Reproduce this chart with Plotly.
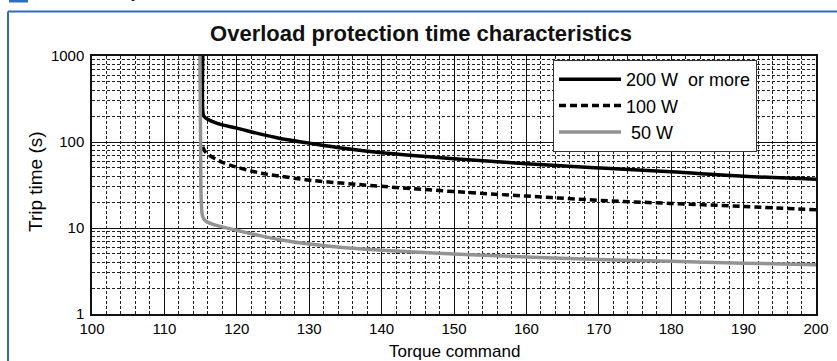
import plotly.graph_objects as go

# torque command (%) and trip time (s)
torque_200w = [115.3, 115.3, 115.4, 115.7, 116.5, 118, 120, 123, 126, 130, 135, 140,
               150, 160, 170, 180, 190, 200]
trip_200w = [1000, 230, 205, 190, 175, 158, 145, 125, 110, 97, 84, 75,
             64, 56, 50, 45, 40, 37]

torque_100w = [115.3, 115.5, 116, 117, 118, 120, 123, 126, 130, 135, 140,
               150, 160, 170, 180, 190, 200]
trip_100w = [88, 80, 72, 64, 58, 51, 44, 40, 36, 33, 30.5,
             26.5, 23.5, 21, 19.3, 17.8, 16.3]

torque_50w = [114.9, 115.0, 115.1, 115.3, 115.7, 116.5, 118, 120, 123, 126, 130, 135,
              140, 150, 160, 170, 180, 190, 200]
trip_50w = [1000, 100, 20, 13.5, 12, 11.2, 10.3, 9.4, 8.2, 7.3, 6.5, 5.9,
            5.5, 5.0, 4.6, 4.3, 4.1, 3.9, 3.75]

x_ticks = list(range(100, 201, 10))
y_ticks = [1, 10, 100, 1000]

FONT = "Liberation Sans, Arial, sans-serif"
BLUE = "#2f6fba"

# plot area in pixels
L, R, T, B = 92, 816, 56, 314
PW, PH = R - L, B - T


def px(x):
    return (x - L) / PW


def py(y):
    return (B - y) / PH


fig = go.Figure()
fig.add_trace(go.Scatter(x=torque_200w, y=trip_200w, name="200 W  or more",
                         mode="lines", line=dict(color="black", width=3.5, shape="spline")))
fig.add_trace(go.Scatter(x=torque_100w, y=trip_100w, name="100 W",
                         mode="lines", line=dict(color="black", width=3.5, dash="7px,4px",
                                                 shape="spline")))
fig.add_trace(go.Scatter(x=torque_50w, y=trip_50w, name=" 50 W",
                         mode="lines", line=dict(color="#939393", width=3.5, shape="spline")))

fig.update_layout(
    width=837, height=361,
    margin=dict(l=L, r=837 - R, t=T, b=361 - B, autoexpand=False),
    paper_bgcolor="white", plot_bgcolor="white",
    font=dict(family=FONT, color="black", size=15),
    title=dict(text="<b>Overload protection time characteristics</b>",
               x=421 / 837, xanchor="center", y=1 - 33 / 361, yanchor="middle",
               font=dict(size=22, color="#111")),
    legend=dict(x=px(553), y=py(60), xanchor="left", yanchor="top",
                bgcolor="white", bordercolor="#333", borderwidth=1,
                font=dict(size=18, color="black"), itemwidth=62,
                tracegroupgap=0),
    xaxis=dict(
        range=[100, 200], tickvals=x_ticks, ticks="", automargin=False,
        ticklabelstandoff=0,
        showgrid=True, gridcolor="#111", gridwidth=1,
        showline=True, linecolor="#111", linewidth=1.5, mirror=True,
        minor=dict(dtick=2, showgrid=True, gridcolor="#222", gridwidth=1, griddash="3px,2px"),
        zeroline=False,
    ),
    yaxis=dict(
        type="log", range=[0, 3], tickvals=y_ticks, ticktext=[str(v) for v in y_ticks],
        ticks="", automargin=False, ticklabelstandoff=3,
        showgrid=True, gridcolor="#111", gridwidth=1,
        showline=True, linecolor="#111", linewidth=1.5, mirror=True,
        minor=dict(dtick="D1", showgrid=True, gridcolor="#222", gridwidth=1, griddash="3px,2px"),
        zeroline=False,
    ),
)

# axis titles
fig.add_annotation(xref="paper", yref="paper", x=px(454), y=py(351), showarrow=False,
                   xanchor="center", yanchor="middle", text="Torque command",
                   font=dict(size=17))
fig.add_annotation(xref="paper", yref="paper", x=px(35), y=py(182), showarrow=False,
                   xanchor="center", yanchor="middle", text="Trip time (s)", textangle=-90,
                   font=dict(size=19))

# blue frame around the panel
fig.add_shape(type="line", xref="paper", yref="paper", x0=px(8), x1=px(850), y0=py(11.5),
              y1=py(11.5), line=dict(color=BLUE, width=2))
fig.add_shape(type="line", xref="paper", yref="paper", x0=px(8), x1=px(8), y0=py(11.5),
              y1=py(380), line=dict(color=BLUE, width=2))
fig.add_shape(type="rect", xref="paper", yref="paper", x0=px(9), x1=px(28),
              y0=py(2.5), y1=py(-10), line=dict(width=0), fillcolor=BLUE)
# section heading, mostly cut off at the top
fig.add_annotation(xref="paper", yref="paper", x=px(36), y=py(3), showarrow=False,
                   xanchor="left", yanchor="bottom",
                   text="<b>Overload protection characteristics</b>",
                   font=dict(size=20, color="#222"))

# drop the browser's default 8px page margin so the figure sits at the window corner
fig.write_html("out.html", config={"displayModeBar": False},
               post_script="document.body.style.margin='0';")
